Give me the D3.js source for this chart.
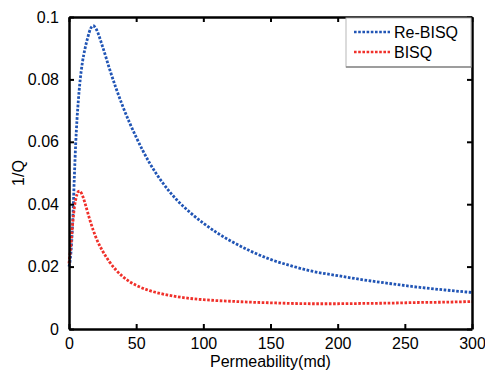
<!DOCTYPE html>
<html>
<head>
<meta charset="utf-8">
<script src="https://cdn.jsdelivr.net/npm/d3@7"></script>
<style>
  html, body { margin: 0; padding: 0; background: #fff; }
  svg { display: block; font-family: "Liberation Sans", Arial, sans-serif; }
</style>
</head>
<body>
<svg id="chart" width="485" height="370"></svg>
<script>
// Permeability samples (md)
const permeability = [0, 1, 2, 3, 4, 5, 6, 7, 8, 10, 12, 14, 16, 18, 20, 25, 30, 35, 40, 45, 50,
  60, 70, 80, 90, 100, 110, 120, 135, 150, 165, 180, 200, 220, 240, 260, 280, 300];

// Attenuation 1/Q, Re-BISQ model
const reBisq = [0.0200, 0.0225, 0.0280, 0.0370, 0.0490, 0.0595, 0.0675, 0.0735, 0.0785, 0.0855,
  0.0900, 0.0935, 0.0962, 0.0972, 0.0963, 0.0905, 0.0836, 0.0772, 0.0714, 0.0662, 0.0615,
  0.0532, 0.0467, 0.0415, 0.0374, 0.0339, 0.0309, 0.0283, 0.0250, 0.0223, 0.0203, 0.0186,
  0.0171, 0.0157, 0.0145, 0.0134, 0.0125, 0.0117];

// Attenuation 1/Q, BISQ model
const bisq = [0.0210, 0.0250, 0.0300, 0.0350, 0.0390, 0.0415, 0.0432, 0.0441, 0.0442, 0.0428,
  0.0402, 0.0372, 0.0343, 0.0317, 0.0294, 0.0250, 0.0216, 0.0189, 0.0168, 0.0152, 0.0140,
  0.0123, 0.0112, 0.0104, 0.0098, 0.0094, 0.0091, 0.0089, 0.0086, 0.0084, 0.0082, 0.0081,
  0.0081, 0.0082, 0.0083, 0.0085, 0.0086, 0.0088];

const xTicks = [0, 50, 100, 150, 200, 250, 300];
const yTicks = [0, 0.02, 0.04, 0.06, 0.08, 0.1];
const seriesNames = ["Re-BISQ", "BISQ"];
const seriesColors = ["#2155b5", "#f0302a"];

const margin = { left: 69, right: 13, top: 17, bottom: 41 };
const W = 485, H = 370;
const iw = W - margin.left - margin.right;
const ih = H - margin.top - margin.bottom;

const svg = d3.select("#chart");
const g = svg.append("g").attr("transform", `translate(${margin.left},${margin.top})`);

const x = d3.scaleLinear().domain([0, 300]).range([0, iw]);
const y = d3.scaleLinear().domain([0, 0.1]).range([ih, 0]);

const fmtY = d => d === 0 ? "0" : String(+d.toFixed(2));

// Curves
const line = d3.line()
  .x((d, i) => x(permeability[i]))
  .y(d => y(d))
  .curve(d3.curveMonotoneX);

[reBisq, bisq].forEach((vals, k) => {
  g.append("path")
    .datum(vals)
    .attr("d", line)
    .attr("fill", "none")
    .attr("stroke", seriesColors[k])
    .attr("stroke-width", 2.8)
    .attr("stroke-dasharray", "2.6,1.6");
});

// Axes (ticks inward, box frame)
function styleAxis(sel) {
  sel.select(".domain").attr("stroke", "#000").attr("stroke-width", 2.5);
  sel.selectAll(".tick line").attr("stroke", "#000").attr("stroke-width", 2);
  sel.selectAll(".tick text").attr("fill", "#000").attr("font-size", 16)
    .attr("font-family", "Liberation Sans, Arial, sans-serif");
}

const axisBottomG = g.append("g").attr("transform", `translate(0,${ih})`)
  .call(d3.axisBottom(x).tickValues(xTicks).tickSizeInner(-5).tickSizeOuter(0).tickPadding(9));
styleAxis(axisBottomG);

const axisTopG = g.append("g")
  .call(d3.axisTop(x).tickValues(xTicks).tickSizeInner(-5).tickSizeOuter(0).tickFormat(""));
styleAxis(axisTopG);

const axisLeftG = g.append("g")
  .call(d3.axisLeft(y).tickValues(yTicks).tickSizeInner(-5).tickSizeOuter(0).tickPadding(10).tickFormat(fmtY));
styleAxis(axisLeftG);

const axisRightG = g.append("g").attr("transform", `translate(${iw},0)`)
  .call(d3.axisRight(y).tickValues(yTicks).tickSizeInner(-5).tickSizeOuter(0).tickFormat(""));
styleAxis(axisRightG);

// Axis titles
svg.append("text")
  .attr("x", margin.left + iw / 2)
  .attr("y", 367)
  .attr("text-anchor", "middle")
  .attr("font-size", 16)
  .text("Permeability(md)");

svg.append("text")
  .attr("transform", `translate(24,${margin.top + ih / 2}) rotate(-90)`)
  .attr("text-anchor", "middle")
  .attr("font-size", 16)
  .text("1/Q");

// Legend
const lg = g.append("g").attr("transform", `translate(${iw - 126},1)`);
lg.append("rect")
  .attr("width", 125).attr("height", 49)
  .attr("fill", "#fff").attr("stroke", "#b8b8b8").attr("stroke-width", 1);
lg.append("line")
  .attr("x1", 0).attr("x2", 125).attr("y1", 49).attr("y2", 49)
  .attr("stroke", "#888").attr("stroke-width", 1.5);

seriesNames.forEach((name, k) => {
  const yy = 14 + k * 20;
  lg.append("line")
    .attr("x1", 8).attr("x2", 44).attr("y1", yy).attr("y2", yy)
    .attr("stroke", seriesColors[k]).attr("stroke-width", 2.5)
    .attr("stroke-dasharray", "2.6,1.6");
  lg.append("text")
    .attr("x", 48).attr("y", yy + 6)
    .attr("font-size", 16)
    .text(name);
});
</script>
</body>
</html>
